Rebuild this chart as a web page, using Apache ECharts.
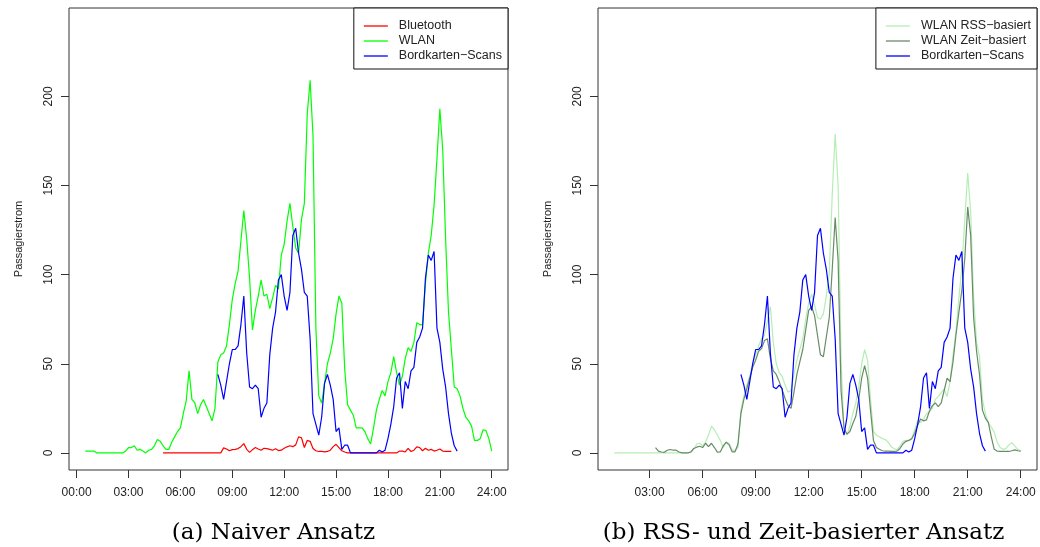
<!DOCTYPE html>
<html>
<head>
<meta charset="utf-8">
<title>Passagierstrom</title>
<script src="https://cdn.jsdelivr.net/npm/echarts@6/dist/echarts.min.js"></script>
<style>
  html, body { margin: 0; padding: 0; background: #ffffff; }
  #chart { width: 1040px; height: 547px; }
</style>
</head>
<body>
<div id="chart"></div>
<script>
// All series are sampled every 10 minutes; each array starts at its own time (minutes after midnight).
const STEP_MIN = 10;

// (a) Naiver Ansatz
const wlanStart = 30; // 00:30
const wlanNaive = [
  1, 1, 1,
  1, 0, 0, 0, 0, 0,
  0, 0, 0, 0, 0, 1,
  3, 3, 4, 1.5, 2, 1,
  0, 1.5, 2, 4, 7.5, 6.5,
  4, 2, 2, 6, 9, 12,
  14, 22, 29, 46, 30, 28,
  22, 27, 30, 26, 22, 18,
  25, 51, 55, 56, 60, 72,
  86, 95, 102, 119, 136, 120,
  98, 69, 80, 88, 97, 88,
  89, 81, 87, 94, 92, 111,
  117, 130, 140, 127, 115, 112,
  131, 140, 190, 209, 178, 70,
  32, 28, 39, 50, 56, 64,
  78, 88, 84, 47, 27, 24,
  21, 14, 14, 14, 12, 8,
  5, 14, 24, 30, 35, 32,
  40, 45, 54, 45, 38, 43,
  53, 59, 57, 62, 73, 72,
  72, 95, 112, 122, 139, 165,
  193, 170, 120, 79, 58, 37,
  36, 32, 25, 20, 18, 15,
  7, 7, 8, 13, 12.5, 8,
  1
];

const bluetoothStart = 300; // 05:00
const bluetooth = [
  0, 0, 0, 0, 0, 0,
  0, 0, 0, 0, 0, 0,
  0, 0, 0, 0, 0, 0,
  0, 0, 0, 2.8, 2.2, 1.2,
  1.8, 2.0, 2.4, 3.5, 5.2, 2,
  0.3, 1.8, 3, 2.2, 1.5, 2.6,
  2.4, 2, 1.5, 2.3, 1.3, 1.5,
  2.6, 3.4, 4, 3.5, 4.5, 9,
  8.5, 3, 7, 6.5, 2.5, 1.2,
  0.8, 0.8, 0.6, 0.8, 1.5, 3.5,
  4.8, 3, 1.2, 0.5, 0, 0,
  0, 0, 0, 0, 0, 0,
  0, 0, 0, 0, 0, 0,
  0, 0, 0, 0, 1, 1,
  0.5, 2.5, 0.8, 1.5, 3.4, 3.0,
  1.2, 2.6, 1.5, 2, 1, 1.5,
  2.2, 1, 0.8, 0.8, 0.8
];

// Shared by both panels
const scansStart = 490; // 08:10
const boardingScans = [
  44, 38, 30, 40, 50,
  58, 58, 60, 72, 88, 56,
  37, 36, 38, 36, 20, 25,
  28, 55, 70, 79, 97, 100,
  88, 80, 90, 122, 126, 112,
  103, 90, 88, 64, 22, 16,
  10, 20, 39, 44, 38, 30,
  12, 14, 2, 4.3, 4.3, 0,
  0, 0, 0, 0, 0, 0,
  0, 0, 0, 1.5, 0.5, 1.5,
  8, 16, 26, 42, 45, 25,
  40, 36, 46, 48, 62, 65,
  70, 98, 111, 108, 113, 70,
  62, 47, 37, 22, 11, 4,
  1
];

// (b) RSS- und Zeit-basierter Ansatz
const rssStart = 60; // 01:00
const wlanRss = [
  0, 0, 0, 0, 0, 0,
  0, 0, 0, 0, 0, 0,
  0, 0, 0, 0, 0, 0,
  0, 0, 0, 0, 0, 0,
  0, 0, 0.5, 2, 5, 5.4,
  4, 6, 10, 15, 13, 10,
  7, 3, 6, 5.4, 1.7, 1.3,
  3, 24, 32, 38, 43, 50,
  55, 60, 64, 66, 74, 82,
  62, 50, 45, 43, 38, 34,
  35, 44, 52, 58, 64, 75,
  84, 89, 83, 76, 75, 78,
  88, 101, 145, 179, 150, 52,
  13, 10, 15, 22, 28, 37,
  50, 58, 52, 30, 12, 10,
  9, 8, 7.5, 6, 3.5, 2.5,
  1.7, 4, 6.5, 7, 7, 8,
  13, 18, 17, 19, 22, 23,
  25, 30, 31.6, 33.8, 35.7, 31.6,
  40, 55, 68, 87, 104, 131,
  157, 135, 88, 62, 54, 30,
  22, 17, 14.5, 11.5, 6, 3,
  2, 2.5, 4.5, 5.7, 3.8, 2,
  1
];

const zeitStart = 200; // 03:20
const wlanZeit = [
  3, 1, 0.5, 0.3,
  1.5, 1.9, 1.5, 1.5, 0.5, 0,
  0, 0, 0.5, 2.5, 3.2, 3.7,
  3, 5.4, 3.5, 5.4, 3, 0.4,
  0.5, 4, 6, 4.5, 0.6, 0.6,
  5, 22, 30, 36, 42, 48,
  52, 57, 58.5, 63, 64, 53,
  46, 44, 40, 35.5, 30.5, 26.5,
  25, 34, 44, 51, 58, 69,
  80, 82, 77, 66, 55, 54,
  65, 76, 103, 132, 108, 35,
  14, 10.5, 12, 16.5, 20.5, 30,
  42, 49, 42, 24, 7, 3,
  2, 1.2, 1, 1, 0.8, 0.8,
  1, 2.5, 5, 6.5, 7, 8,
  11, 15.5, 19, 18, 18.5, 23.5,
  26.5, 28, 26, 28, 35, 42,
  40, 51, 66, 79, 91, 109,
  138, 122, 76, 57, 44, 24,
  19.5, 17, 9, 2, 1, 0.8,
  0.8, 0.8, 0.8, 1.2, 1.7, 1.2,
  1
];

// Axis tick labels
const hourTicksA = [0, 3, 6, 9, 12, 15, 18, 21, 24];
const hourTicksB = [3, 6, 9, 12, 15, 18, 21, 24];
const valueTicks = [0, 50, 100, 150, 200];

const NAME_BT = 'Bluetooth';
const NAME_WLAN = 'WLAN';
const NAME_SCANS = 'Bordkarten\u2212Scans';
const NAME_RSS = 'WLAN RSS\u2212basiert';
const NAME_ZEIT = 'WLAN Zeit\u2212basiert';

function toPoints(startMin, values) {
  return values.map((v, i) => [(startMin + i * STEP_MIN) / 60, v]);
}

const SANS = '"Liberation Sans", Arial, Helvetica, sans-serif';
const INK = '#222';
const FRAME = '#333';

function hourLabel(v) {
  return String(Math.round(v)).padStart(2, '0') + ':00';
}

function xAxisFor(gridIndex, min, max, ticks) {
  return {
    gridIndex, type: 'value', min, max, position: 'bottom',
    axisLine: { show: false, onZero: false },
    axisTick: { show: true, inside: false, length: 8, customValues: ticks, lineStyle: { color: FRAME, width: 1 } },
    axisLabel: { customValues: ticks, formatter: hourLabel, margin: 17, fontSize: 12, color: INK, fontFamily: SANS },
    splitLine: { show: false }
  };
}

function yAxisFor(gridIndex) {
  return {
    gridIndex, type: 'value', min: -9.6, max: 249.6, position: 'left',
    name: 'Passagierstrom', nameLocation: 'middle', nameGap: 45,
    nameTextStyle: { fontSize: 11, color: INK, fontFamily: SANS },
    axisLine: { show: false, onZero: false },
    axisTick: { show: true, inside: false, length: 8, customValues: valueTicks, lineStyle: { color: FRAME, width: 1 } },
    axisLabel: { customValues: valueTicks, rotate: 90, margin: 14, fontSize: 12, color: INK, fontFamily: SANS },
    splitLine: { show: false }
  };
}

function lineSeries(name, color, xi, points) {
  return {
    name, type: 'line', xAxisIndex: xi, yAxisIndex: xi, data: points,
    symbol: 'none', showSymbol: false, smooth: false,
    lineStyle: { color, width: 1.2 }, itemStyle: { color },
    emphasis: { disabled: true }, animation: false
  };
}

function legendFor(names, right) {
  return {
    data: names, orient: 'vertical', right, top: 8,
    icon: 'rect',
    backgroundColor: '#ffffff', borderColor: '#111', borderWidth: 1, borderRadius: 0,
    padding: [11, 6, 6, 10], itemWidth: 24, itemHeight: 1.3, itemGap: 1,
    selectedMode: false,
    textStyle: { fontSize: 12.5, color: INK, fontFamily: SANS, lineHeight: 14, padding: [0, 0, 0, 6] }
  };
}

const chart = echarts.init(document.getElementById('chart'), null, { renderer: 'canvas' });

chart.setOption({
  animation: false,
  backgroundColor: '#ffffff',
  grid: [
    { left: 69, top: 8, width: 439, height: 462, show: true, borderColor: FRAME, borderWidth: 1, backgroundColor: 'transparent' },
    { left: 598, top: 8, width: 439, height: 462, show: true, borderColor: FRAME, borderWidth: 1, backgroundColor: 'transparent' }
  ],
  xAxis: [
    xAxisFor(0, -0.44, 24.94, hourTicksA),
    xAxisFor(1, 0.08, 24.92, hourTicksB)
  ],
  yAxis: [yAxisFor(0), yAxisFor(1)],
  legend: [
    legendFor([NAME_BT, NAME_WLAN, NAME_SCANS], 1040 - 508),
    legendFor([NAME_RSS, NAME_ZEIT, NAME_SCANS], 1040 - 1037)
  ],
  series: [
    lineSeries(NAME_WLAN, '#00ff00', 0, toPoints(wlanStart, wlanNaive)),
    lineSeries(NAME_BT, '#ff0000', 0, toPoints(bluetoothStart, bluetooth)),
    lineSeries(NAME_SCANS, '#0000ff', 0, toPoints(scansStart, boardingScans)),
    lineSeries(NAME_RSS, '#b4eeb4', 1, toPoints(rssStart, wlanRss)),
    lineSeries(NAME_ZEIT, '#698b69', 1, toPoints(zeitStart, wlanZeit)),
    lineSeries(NAME_SCANS, '#0000ff', 1, toPoints(scansStart, boardingScans))
  ],
  graphic: [
    { type: 'text', x: 273.5, y: 533, silent: true,
      style: { text: '(a) Naiver Ansatz', font: '23px "DejaVu Serif", serif', fill: '#000', textAlign: 'center', textVerticalAlign: 'middle' } },
    { type: 'text', x: 803.5, y: 533, silent: true,
      style: { text: '(b) RSS- und Zeit-basierter Ansatz', font: '23px "DejaVu Serif", serif', fill: '#000', textAlign: 'center', textVerticalAlign: 'middle' } }
  ]
});
</script>
</body>
</html>
